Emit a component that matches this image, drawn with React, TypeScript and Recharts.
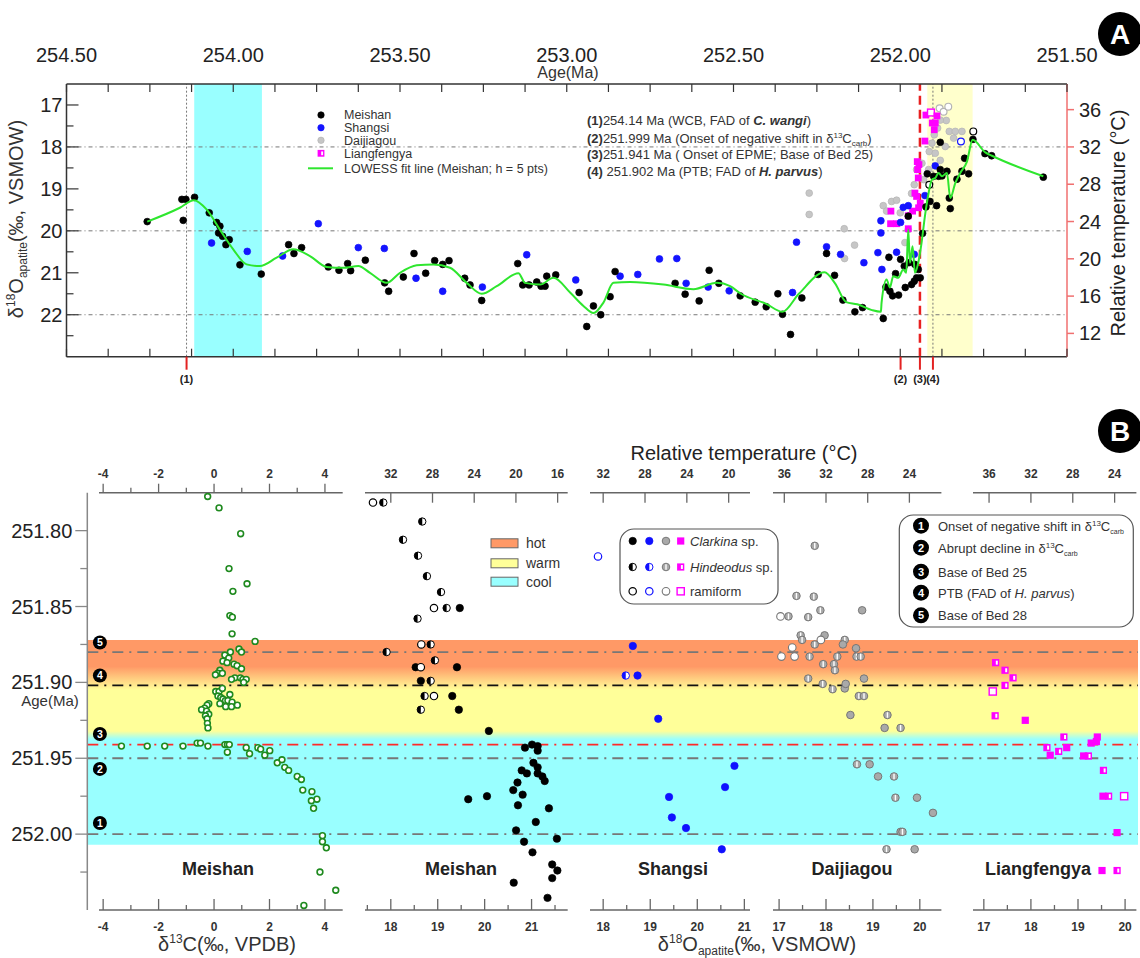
import React from "react";
import {
  ScatterChart,
  Scatter,
  XAxis,
  YAxis,
  ReferenceLine,
  ReferenceArea,
  ReferenceDot,
} from "recharts";

const FONT = "'Liberation Sans', Arial, Helvetica, sans-serif";

type Row = [number, number, string?];

// ---------- Panel A: δ18O(apatite) vs age, rows are [age Ma, δ18O ‰] ----------
const meishanA: Row[] = [
  [254.258, 19.78], [254.154, 19.25], [254.142, 19.25], [254.15, 19.75], [254.116, 19.2],
  [254.072, 19.57], [254.05, 19.8], [254.04, 19.89], [254.044, 20.05], [254.032, 20.13],
  [254.022, 20.33], [254.012, 20.21], [253.98, 20.81], [253.916, 21.03], [253.834, 20.33],
  [253.818, 20.54], [253.795, 20.4], [253.715, 20.86], [253.683, 20.94], [253.657, 20.78],
  [253.648, 20.95], [253.604, 20.7], [253.546, 21.24], [253.534, 21.44], [253.49, 21.1],
  [253.458, 20.54], [253.423, 21.01], [253.396, 20.71], [253.372, 20.8], [253.353, 20.71],
  [253.306, 21.13], [253.29, 21.29], [253.255, 21.66], [253.147, 20.78], [253.132, 21.29],
  [253.113, 21.29], [253.09, 21.22], [253.077, 21.32], [253.065, 21.32], [253.06, 21.08],
  [253.033, 21.05], [252.963, 21.47], [252.94, 22.28], [252.92, 21.79], [252.898, 22.0],
  [252.87, 21.57], [252.855, 20.97], [252.675, 21.25], [252.645, 21.51], [252.603, 21.67],
  [252.573, 20.94], [252.544, 21.25], [252.48, 21.55], [252.435, 21.7], [252.402, 21.81],
  [252.367, 21.5], [252.353, 21.99], [252.329, 22.47], [252.295, 21.6], [252.246, 21.04],
  [252.221, 20.54], [252.197, 21.06], [252.172, 21.65], [252.136, 21.93], [252.113, 21.83],
  [252.051, 22.09], [252.043, 21.34], [252.031, 21.44], [252.023, 21.55], [252.034, 20.63],
  [252.014, 21.02], [252.005, 21.53], [251.999, 20.68], [251.985, 21.35], [251.988, 20.84],
  [251.976, 19.65], [251.974, 20.76], [251.966, 21.28], [251.956, 20.8], [251.951, 21.12],
  [251.958, 21.2], [251.94, 21.12], [251.946, 20.92], [251.933, 20.06], [251.923, 19.43],
  [251.911, 19.3], [251.891, 19.4], [251.919, 18.64], [251.9, 18.7], [251.885, 18.7],
  [251.88, 17.89], [251.88, 18.54], [251.875, 18.69], [251.86, 18.58], [251.85, 19.47],
  [251.853, 19.22], [251.83, 18.77], [251.815, 18.58], [251.807, 18.27], [251.795, 18.64],
  [251.782, 17.82], [251.746, 18.16], [251.726, 18.21], [251.571, 18.72],
  [251.781, 17.63, "r"], [251.913, 18.9, "r"],
];

const shangsiA: Row[] = [
  [254.065, 20.29], [253.958, 20.49], [253.852, 20.6], [253.745, 19.83], [253.625, 20.4],
  [253.547, 20.42], [253.452, 21.13], [253.372, 21.44], [253.253, 21.34], [253.12, 20.57],
  [252.973, 21.17], [252.84, 21.08], [252.787, 21.04], [252.722, 20.67], [252.67, 20.66],
  [252.642, 21.25], [252.576, 21.34], [252.513, 21.43], [252.323, 21.47], [252.311, 20.27],
  [252.221, 20.38], [252.179, 20.56], [252.109, 20.76], [252.067, 20.52], [252.055, 20.92],
  [252.058, 19.76], [252.058, 20.05], [251.999, 19.8], [251.991, 19.44], [251.976, 19.4],
  [251.926, 19.16], [252.011, 20.51], [251.958, 20.56], [251.895, 18.45],
  [251.818, 17.87, "r"],
];

const daijiagouA: Row[] = [
  [252.273, 19.1], [252.273, 19.61], [252.168, 19.95], [252.137, 20.34], [252.167, 20.66],
  [252.051, 19.4], [252.041, 19.53], [252.026, 19.3], [252.011, 19.27], [252.0, 19.57],
  [251.986, 20.28], [251.976, 19.97], [251.966, 19.11], [251.958, 18.9], [251.951, 18.54],
  [251.935, 18.39], [251.913, 18.11], [251.905, 17.91], [251.898, 17.71], [251.888, 17.55],
  [251.882, 17.08, "r"], [251.87, 17.16, "r"], [251.862, 17.37], [251.856, 17.04, "r"],
  [251.853, 17.63], [251.88, 17.36], [251.895, 18.15], [251.915, 18.54], [251.88, 18.32],
  [251.84, 17.79], [251.835, 17.63], [251.815, 17.63], [251.865, 17.99], [251.93, 18.78],
];

const liangfengyaA: Row[] = [
  [252.028, 19.53], [252.029, 19.83], [252.011, 19.83], [251.976, 19.95], [251.976, 19.64],
  [251.963, 19.53], [251.956, 19.1], [251.951, 19.18], [251.94, 19.34], [251.945, 19.45],
  [251.949, 18.35], [251.944, 18.42], [251.948, 18.54], [251.946, 18.74], [251.926, 17.86],
  [251.923, 17.24], [251.908, 17.18, "r"], [251.89, 17.26], [251.904, 17.43], [251.895, 17.43],
  [251.898, 17.59],
];

// LOWESS curve, read node by node off the picture
const lowessA: Row[] = [
  [254.258, 19.78], [254.16, 19.45], [254.118, 19.27], [254.08, 19.49], [254.04, 19.97],
  [254.0, 20.44], [253.96, 20.8], [253.92, 20.84], [253.87, 20.64], [253.82, 20.44],
  [253.77, 20.6], [253.72, 20.86], [253.67, 20.88], [253.625, 20.84], [253.59, 21.0],
  [253.54, 21.24], [253.5, 21.0], [253.45, 20.82], [253.4, 20.8], [253.35, 20.88],
  [253.3, 21.24], [253.255, 21.5], [253.21, 21.32], [253.145, 21.01], [253.125, 21.24],
  [253.08, 21.28], [253.04, 21.12], [252.99, 21.47], [252.95, 21.79], [252.92, 21.96],
  [252.89, 21.71], [252.86, 21.24], [252.81, 21.22], [252.71, 21.28], [252.62, 21.39],
  [252.55, 21.24], [252.51, 21.32], [252.478, 21.5], [252.402, 21.74], [252.353, 21.93],
  [252.304, 21.5], [252.227, 20.99], [252.195, 21.26], [252.162, 21.7], [252.129, 21.75],
  [252.085, 21.89], [252.058, 21.93], [252.056, 21.71], [252.041, 21.16], [252.031, 21.35],
  [252.021, 21.08], [252.006, 21.12], [251.991, 20.92], [251.982, 21.0], [251.976, 19.97],
  [251.971, 20.76], [251.963, 20.37], [251.956, 21.0], [251.946, 20.76], [251.936, 20.28],
  [251.926, 19.65], [251.916, 19.14], [251.905, 18.78], [251.895, 18.74], [251.885, 18.62],
  [251.875, 18.7], [251.86, 18.62], [251.85, 19.22], [251.835, 18.86], [251.82, 18.62],
  [251.8, 18.35], [251.783, 17.83], [251.745, 18.13], [251.725, 18.21], [251.571, 18.7],
];

const ageTicksA = [
  254.5, 254.375, 254.25, 254.125, 254.0, 253.875, 253.75, 253.625, 253.5, 253.375, 253.25,
  253.125, 253.0, 252.875, 252.75, 252.625, 252.5, 252.375, 252.25, 252.125, 252.0, 251.875,
  251.75, 251.625, 251.5,
];
const d18TicksA = [17, 17.5, 18, 18.5, 19, 19.5, 20, 20.5, 21, 21.5, 22, 22.5];
const tempTicksA = [12, 16, 20, 24, 28, 32, 36];
const eventAges = [254.14, 251.999, 251.941, 251.902];
const eventLabels = ["(1)", "(2)", "(3)", "(4)"];

// ---------- Panel B: rows are [age Ma, value, kind]  c = Clarkina, h = Hindeodus, r = ramiform ----------
const c13Meishan: Row[] = [
  [251.7775, -0.23], [251.785, 0.18], [251.802, 0.96], [251.825, 0.54], [251.835, 1.19],
  [251.84, 0.68], [251.856, 0.57], [251.857, 0.66], [251.868, 0.65], [251.873, 1.48],
  [251.878, 0.9], [251.88, 0.99], [251.88, 0.59], [251.882, 0.39], [251.884, 0.53],
  [251.886, 0.32], [251.887, 0.47], [251.888, 0.72], [251.889, 0.83], [251.891, 0.99],
  [251.892, 0.21], [251.894, 0.14], [251.894, 0.3], [251.895, 0.05], [251.897, 0.75],
  [251.897, 0.95], [251.898, 1.04], [251.898, 1.16], [251.9, 1.07], [251.898, 0.63],
  [251.906, 0.06], [251.906, 0.18], [251.904, 0.3], [251.909, 0.14], [251.91, 0.24],
  [251.908, 0.57], [251.911, 0.32], [251.912, 0.41], [251.912, 0.5], [251.913, 0.65],
  [251.914, 0.21], [251.916, 0.42], [251.916, 0.63], [251.915, 0.84], [251.914, -0.19],
  [251.915, -0.25], [251.917, -0.34], [251.918, -0.45], [251.919, -0.27], [251.921, -0.19],
  [251.922, -0.31], [251.924, -0.25], [251.927, -0.24], [251.93, -0.22], [251.942, -3.34],
  [251.942, -2.41], [251.942, -1.78], [251.942, -1.12], [251.94, -0.61], [251.94, -0.49],
  [251.942, -0.22], [251.941, 0.39], [251.941, 0.48], [251.941, 0.55], [251.946, 0.48],
  [251.943, 1.16], [251.947, 1.28], [251.943, 1.58], [251.944, 1.68], [251.948, 1.83],
  [251.945, 2.01], [251.953, 2.28], [251.951, 2.45], [251.956, 2.55], [251.958, 2.69],
  [251.962, 3.0], [251.964, 3.15], [251.971, 3.2], [251.972, 3.53], [251.977, 3.71],
  [251.978, 3.51], [251.983, 3.59], [252.001, 3.91], [252.005, 3.91], [252.009, 4.05],
  [252.025, 3.82], [252.037, 4.39], [252.047, 3.24],
];

const o18Meishan: Row[] = [
  [251.7815, 17.62, "r"], [251.7815, 17.84, "h"], [251.794, 18.67, "h"], [251.806, 18.26, "h"],
  [251.8165, 18.58, "h"], [251.83, 18.77, "h"], [251.8405, 19.07, "h"], [251.851, 18.92, "r"],
  [251.851, 19.19, "h"], [251.851, 19.47, "c"], [251.858, 18.57, "h"], [251.875, 18.65, "r"],
  [251.875, 18.85, "h"], [251.88, 17.91, "h"], [251.8855, 18.94, "h"], [251.89, 19.41, "c"],
  [251.89, 18.53, "c"], [251.89, 18.64, "r"], [251.899, 18.64, "c"], [251.899, 18.85, "h"],
  [251.909, 18.72, "h"], [251.909, 18.92, "r"], [251.909, 19.31, "c"], [251.918, 18.64, "h"],
  [251.918, 19.45, "c"], [251.932, 20.09, "c"], [251.943, 20.86, "c"], [251.941, 21.01, "c"],
  [251.942, 21.13, "c"], [251.945, 21.13, "c"], [251.953, 21.04, "c"], [251.956, 21.13, "c"],
  [251.958, 20.79, "c"], [251.96, 20.9, "c"], [251.96, 21.13, "c"], [251.962, 21.23, "c"],
  [251.965, 21.28, "c"], [251.966, 20.7, "c"], [251.971, 20.61, "c"], [251.974, 20.81, "c"],
  [251.977, 19.65, "c"], [251.975, 20.05, "c"], [251.981, 20.71, "c"], [251.983, 21.37, "c"],
  [251.992, 21.09, "c"], [251.9975, 20.67, "c"], [252.003, 21.54, "c"], [252.005, 20.84, "c"],
  [252.012, 21.02, "c"], [252.02, 21.44, "c"], [252.024, 21.55, "c"], [252.029, 21.44, "c"],
  [252.032, 20.62, "c"], [252.042, 21.34, "c"],
];

const o18Shangsi: Row[] = [
  [251.817, 17.89, "r"], [251.876, 18.63, "c"], [251.8955, 18.48, "h"], [251.8955, 18.73, "c"],
  [251.924, 19.17, "c"], [251.955, 20.79, "c"], [251.969, 20.59, "c"], [251.9755, 19.4, "c"],
  [251.989, 19.46, "c"], [251.996, 19.76, "c"], [252.01, 20.52, "c"],
];

const o18Daijiagou: Row[] = [
  [251.81, 17.76, "h"], [251.843, 17.37, "h"], [251.8435, 17.74, "h"], [251.8525, 17.88, "h"],
  [251.8525, 18.77, "c"], [251.8565, 17.03, "r"], [251.8565, 17.2, "h"], [251.857, 17.62, "h"],
  [251.869, 17.46, "h"], [251.872, 17.49, "h"], [251.869, 17.97, "c"], [251.872, 17.89, "r"],
  [251.875, 17.76, "h"], [251.872, 18.4, "h"], [251.875, 18.36, "c"], [251.877, 17.28, "r"],
  [251.883, 17.05, "r"], [251.883, 17.33, "r"], [251.883, 17.65, "h"], [251.883, 18.24, "h"],
  [251.8775, 18.64, "c"], [251.883, 18.65, "h"], [251.883, 18.74, "h"], [251.888, 17.94, "h"],
  [251.888, 18.17, "h"], [251.892, 18.19, "h"], [251.8975, 17.62, "h"], [251.901, 17.93, "h"],
  [251.9045, 18.14, "h"], [251.904, 18.4, "c"], [251.901, 18.42, "c"], [251.8975, 18.81, "c"],
  [251.909, 18.7, "h"], [251.909, 18.81, "h"], [251.9215, 18.52, "c"], [251.9215, 19.31, "h"],
  [251.93, 19.25, "c"], [251.93, 19.59, "h"], [251.954, 18.66, "h"], [251.954, 18.93, "c"],
  [251.962, 19.11, "c"], [251.962, 19.45, "h"], [251.976, 19.48, "h"], [251.976, 19.94, "c"],
  [251.986, 20.28, "c"], [251.9985, 19.59, "h"], [251.9985, 19.63, "h"], [252.01, 19.29, "h"],
  [252.01, 19.89, "c"],
];

const o18Liangfengya: Row[] = [
  [251.887, 17.25, "h"], [251.892, 17.45, "h"], [251.897, 17.62, "h"], [251.902, 17.45, "h"],
  [251.906, 17.19, "r"], [251.922, 17.24, "h"], [251.925, 17.88, "c"], [251.936, 18.7, "h"],
  [251.943, 18.34, "h"], [251.948, 18.41, "c"], [251.9455, 18.59, "h"], [251.943, 18.76, "c"],
  [251.94, 19.28, "c"], [251.936, 19.41, "c"], [251.939, 19.39, "c"], [251.9485, 19.12, "c"],
  [251.9485, 19.22, "h"], [251.958, 19.54, "h"], [251.975, 19.65, "h"], [251.975, 19.53, "c"],
  [251.975, 19.98, "r"], [251.999, 19.83, "c"], [252.024, 19.51, "c"], [252.024, 19.83, "h"],
];

const ageTicksB = [
  251.8, 251.825, 251.85, 251.875, 251.9, 251.925, 251.95, 251.975, 252.0, 252.025,
];
const c13Ticks = [-4, -3, -2, -1, 0, 1, 2, 3, 4];
const bLineAges = [252.0, 251.95, 251.941, 251.902, 251.88];
const badgeAges = [251.9927, 251.957, 251.934, 251.8955, 251.8737];

// temperature scale shown against δ18O
const toTemp = (d: number) => 113 - 4.5 * d;

const toPtsA = (rows: Row[]) => rows.map(([x, y, k]) => ({ x, y, k: k ?? "c" }));
const toPtsB = (rows: Row[]) => rows.map(([age, v, k]) => ({ x: v, y: age, k: k ?? "c" }));

const isMult = (v: number, step: number) => Math.abs(v / step - Math.round(v / step)) < 1e-6;

// ---------- markers ----------
function marker(fill: string, edge: string, square = false, size = 3.7) {
  return (p: any) => {
    const { cx, cy } = p;
    if (cx == null || cy == null) return <g />;
    const k = p.payload?.k ?? "c";
    const s = size;
    if (square) {
      if (k === "r")
        return <rect x={cx - s} y={cy - s} width={2 * s} height={2 * s} fill="#fff" stroke={fill} strokeWidth={1.4} />;
      if (k === "h")
        return (
          <g>
            <rect x={cx - s} y={cy - s} width={2 * s} height={2 * s} fill={fill} />
            <rect x={cx + 0.2} y={cy - s * 0.55} width={s * 0.55} height={s * 1.1} fill="#fff" />
          </g>
        );
      return <rect x={cx - s} y={cy - s} width={2 * s} height={2 * s} fill={fill} />;
    }
    if (k === "r") return <circle cx={cx} cy={cy} r={s} fill="#fff" stroke={edge} strokeWidth={1.2} />;
    if (k === "h")
      return (
        <g>
          <circle cx={cx} cy={cy} r={s} fill="#fff" stroke={edge} strokeWidth={1} />
          <path d={`M${cx},${cy - s} A${s},${s} 0 0 0 ${cx},${cy + s} Z`} fill={fill} />
        </g>
      );
    return <circle cx={cx} cy={cy} r={s} fill={fill} stroke={edge} strokeWidth={0.7} />;
  };
}

function grayHalf(p: any) {
  const { cx, cy } = p;
  if (cx == null) return <g />;
  const k = p.payload?.k ?? "c";
  const s = 3.8;
  if (k === "r") return <circle cx={cx} cy={cy} r={s} fill="#fff" stroke="#777" strokeWidth={1.1} />;
  return (
    <g>
      <circle cx={cx} cy={cy} r={s} fill="#a9a9a9" stroke="#6f6f6f" strokeWidth={0.9} />
      {k === "h" && <line x1={cx} y1={cy - s + 1} x2={cx} y2={cy + s - 1} stroke="#fff" strokeWidth={1.4} />}
    </g>
  );
}

function c13Marker(p: any) {
  const { cx, cy } = p;
  if (cx == null) return <g />;
  return <circle cx={cx} cy={cy} r={2.9} fill="#fff" stroke="#1f8a1f" strokeWidth={1.6} />;
}

// ---------- ticks panel A ----------
function AgeTopTick(p: any) {
  const { x, y, payload } = p;
  const v = payload.value;
  return (
    <g>
      <line x1={x} y1={y} x2={x} y2={y + 8} stroke="#333" strokeWidth={1.2} />
      {isMult(v, 0.5) && (
        <text x={x} y={y - 22} textAnchor="middle" fontSize={20} fontFamily={FONT} fill="#222">
          {v.toFixed(2)}
        </text>
      )}
    </g>
  );
}

function AgeBottomTick(p: any) {
  const { x, y, payload } = p;
  const i = eventAges.indexOf(payload.value);
  if (i >= 0)
    return (
      <g>
        <line x1={x} y1={y} x2={x} y2={y + 13} stroke="#e32222" strokeWidth={2} />
        <text x={x} y={y + 26} textAnchor="middle" fontSize={11} fontWeight="bold" fontFamily={FONT} fill="#222">
          {eventLabels[i]}
        </text>
      </g>
    );
  return <line x1={x} y1={y} x2={x} y2={y - 8} stroke="#333" strokeWidth={1.2} />;
}

function D18Tick(p: any) {
  const { x, y, payload } = p;
  const v = payload.value;
  const major = isMult(v, 1);
  return (
    <g>
      <line x1={x} y1={y} x2={x + (major ? 12 : 7)} y2={y} stroke="#333" strokeWidth={1.2} />
      {major && (
        <text x={x - 4} y={y + 7} textAnchor="end" fontSize={20} fontFamily={FONT} fill="#222">
          {v}
        </text>
      )}
    </g>
  );
}

function TempTick(p: any) {
  const { x, y, payload } = p;
  return (
    <g>
      <line x1={x} y1={y} x2={x + 7} y2={y} stroke="#f07070" strokeWidth={1.5} />
      <text x={x + 12} y={y + 7} textAnchor="start" fontSize={20} fontFamily={FONT} fill="#222">
        {payload.value}
      </text>
    </g>
  );
}

// ---------- ticks panel B ----------
function AgeBTick(p: any) {
  const { x, y, payload } = p;
  const v = payload.value;
  const major = isMult(v, 0.05);
  return (
    <g>
      <line x1={x} y1={y} x2={x - (major ? 12 : 7)} y2={y} stroke="#888" strokeWidth={1.3} />
      {major && (
        <text x={x - 15} y={y + 7} textAnchor="end" fontSize={20} fontFamily={FONT} fill="#222">
          {v.toFixed(2)}
        </text>
      )}
    </g>
  );
}

function BottomTick(p: any) {
  const { x, y, payload, majorStep } = p;
  const v = payload.value;
  const major = isMult(v, majorStep);
  return (
    <g>
      <line x1={x} y1={y} x2={x} y2={y - (major ? 11 : 5)} stroke="#666" strokeWidth={1.3} />
      {major && (
        <text x={x} y={y + 21} textAnchor="middle" fontSize={12} fontWeight="bold" fontFamily={FONT} fill="#333">
          {v}
        </text>
      )}
    </g>
  );
}

function C13TopTick(p: any) {
  const { x, y, payload } = p;
  const v = payload.value;
  const major = isMult(v, 2);
  return (
    <g>
      <line x1={x} y1={y} x2={x} y2={y - (major ? 9 : 5)} stroke="#666" strokeWidth={1.3} />
      {major && (
        <text x={x} y={y - 15} textAnchor="middle" fontSize={12} fontWeight="bold" fontFamily={FONT} fill="#333">
          {v}
        </text>
      )}
    </g>
  );
}

function TempTopTick(p: any) {
  const { x, y, payload } = p;
  return (
    <g>
      <line x1={x} y1={y} x2={x} y2={y + 10} stroke="#666" strokeWidth={1.3} />
      <text x={x} y={y - 15} textAnchor="middle" fontSize={12} fontWeight="bold" fontFamily={FONT} fill="#333">
        {payload.value}
      </text>
    </g>
  );
}

// ---------- Panel A ----------
function PanelA() {
  const frame = { stroke: "#333", strokeWidth: 1.5 };
  const dom: [number, number] = [251.5, 254.5];
  return (
    <div style={{ position: "absolute", left: 0, top: 0 }}>
      <ScatterChart width={1140} height={400} margin={{ top: 54, right: 33, bottom: 13.3, left: 26.5 }}>
        <XAxis xAxisId="top" orientation="top" type="number" dataKey="x" domain={dom} reversed allowDataOverflow
          ticks={ageTicksA} interval={0} height={30} tickSize={0} tickMargin={0} tickLine={false}
          axisLine={frame} tick={AgeTopTick} />
        <XAxis xAxisId="bot" orientation="bottom" type="number" dataKey="x" domain={dom} reversed allowDataOverflow
          ticks={[...ageTicksA, ...eventAges]} interval={0} height={30} tickSize={0} tickMargin={0} tickLine={false}
          axisLine={frame} tick={AgeBottomTick} />
        <YAxis yAxisId="d" orientation="left" type="number" dataKey="y" domain={[16.5, 23]} reversed allowDataOverflow
          ticks={d18TicksA} interval={0} width={40} tickSize={0} tickMargin={0} tickLine={false}
          axisLine={frame} tick={D18Tick} />
        <YAxis yAxisId="t" orientation="right" type="number" domain={[toTemp(23), toTemp(16.5)]} allowDataOverflow
          ticks={tempTicksA} interval={0} width={40} tickSize={0} tickMargin={0} tickLine={false}
          axisLine={{ stroke: "#f07070", strokeWidth: 1.5 }} tick={TempTick} />
        <ReferenceArea xAxisId="bot" yAxisId="d" x1={254.117} x2={253.914} fill="#99ffff" fillOpacity={1} stroke="none" />
        <ReferenceArea xAxisId="bot" yAxisId="d" x1={251.919} x2={251.783} fill="#ffffcc" fillOpacity={1} stroke="none" />
        {[18, 20, 22].map((v) => (
          <ReferenceLine key={v} xAxisId="bot" yAxisId="d" y={v} stroke="#777" strokeDasharray="4 3 1 3" strokeWidth={1} />
        ))}
        <ReferenceLine xAxisId="bot" yAxisId="d" x={254.14} stroke="#777" strokeDasharray="2 2" strokeWidth={1} />
        <ReferenceLine xAxisId="bot" yAxisId="d" x={251.902} stroke="#777" strokeDasharray="2 2" strokeWidth={1} />
        <Scatter data={toPtsA(daijiagouA)} xAxisId="bot" yAxisId="d" isAnimationActive={false}
          shape={marker("#c6c6c6", "#b5b5b5", false, 3.4)} />
        <Scatter data={toPtsA(liangfengyaA)} xAxisId="bot" yAxisId="d" isAnimationActive={false}
          shape={marker("#ff00ff", "#ff00ff", true, 3.4)} />
        <Scatter data={toPtsA(shangsiA)} xAxisId="bot" yAxisId="d" isAnimationActive={false}
          shape={marker("#1414ff", "#1414ff", false, 3.4)} />
        <Scatter data={toPtsA(meishanA)} xAxisId="bot" yAxisId="d" isAnimationActive={false}
          shape={marker("#000", "#000", false, 3.4)} />
        <ReferenceLine xAxisId="bot" yAxisId="d" x={251.941} stroke="#e82020" strokeDasharray="9 5" strokeWidth={2.5} />
        <Scatter data={toPtsA(lowessA)} xAxisId="bot" yAxisId="d" isAnimationActive={false}
          line={{ stroke: "#2ee62e", strokeWidth: 2 }} lineJointType="monotoneX" shape={() => <g />} />
      </ScatterChart>
    </div>
  );
}

// ---------- Panel B ----------
const AGE_B: [number, number] = [251.775, 252.05];
const B_TOP = 400;
const B_H = 558;
const bLineColors = ["#777", "#777", "#ff2a2a", "#111", "#777"];

function PanelBBackground() {
  return (
    <div style={{ position: "absolute", left: 0, top: B_TOP }}>
      <ScatterChart width={1140} height={B_H} margin={{ top: 92.7, right: 2, bottom: 48, left: 7.3 }}>
        <defs>
          <linearGradient id="bandGrad" x1="0" y1="0" x2="0" y2="1">
            <stop offset="0" stopColor="#ff9966" />
            <stop offset="0.13" stopColor="#ff9966" />
            <stop offset="0.245" stopColor="#ffff99" />
            <stop offset="0.445" stopColor="#ffff99" />
            <stop offset="0.485" stopColor="#99ffff" />
            <stop offset="1" stopColor="#99ffff" />
          </linearGradient>
        </defs>
        <XAxis xAxisId="h" hide type="number" dataKey="x" domain={[0, 1]} allowDataOverflow />
        <YAxis yAxisId="a" orientation="left" type="number" dataKey="y" domain={AGE_B} reversed allowDataOverflow
          ticks={ageTicksB} interval={0} width={80} tickSize={0} tickMargin={0} tickLine={false}
          axisLine={{ stroke: "#888", strokeWidth: 1.5 }} tick={AgeBTick} />
        <ReferenceArea xAxisId="h" yAxisId="a" y1={251.872} y2={252.007} fill="url(#bandGrad)" fillOpacity={1} stroke="none" />
        {bLineAges.map((a, i) => (
          <ReferenceLine key={a} xAxisId="h" yAxisId="a" y={a} stroke={bLineColors[i]} strokeWidth={1.8}
            strokeDasharray="11 6 2 6" />
        ))}
        {badgeAges.map((a, i) => (
          <ReferenceDot key={a} xAxisId="h" yAxisId="a" x={0.012} y={a} r={7}
            shape={(p: any) => (
              <g>
                <circle cx={p.cx} cy={p.cy} r={7} fill="#000" />
                <text x={p.cx} y={p.cy + 3.8} textAnchor="middle" fontSize={10.5} fontWeight="bold" fontFamily={FONT} fill="#fff">
                  {i + 1}
                </text>
              </g>
            )} />
        ))}
      </ScatterChart>
    </div>
  );
}

type SubCfg = {
  left: number;
  right: number;
  domain: [number, number];
  ticks: number[];
  major: number;
  tempTicks?: number[];
  series: { rows: Row[]; shape: any }[];
};

const subPanels: SubCfg[] = [
  {
    left: 99.3, right: 343, domain: [-4.15, 4.64], ticks: c13Ticks, major: 2,
    series: [{ rows: c13Meishan, shape: c13Marker }],
  },
  {
    left: 365, right: 567.7, domain: [17.45, 21.77], ticks: [17.5, 18, 18.5, 19, 19.5, 20, 20.5, 21, 21.5], major: 1,
    tempTicks: [32, 28, 24, 20, 16], series: [{ rows: o18Meishan, shape: marker("#000", "#000") }],
  },
  {
    left: 590, right: 750, domain: [17.72, 21.12], ticks: [18, 18.5, 19, 19.5, 20, 20.5, 21], major: 1,
    tempTicks: [32, 28, 24, 20], series: [{ rows: o18Shangsi, shape: marker("#1010ff", "#1010ff") }],
  },
  {
    left: 773.3, right: 941.7, domain: [16.87, 20.46], ticks: [17, 17.5, 18, 18.5, 19, 19.5, 20], major: 1,
    tempTicks: [36, 32, 28, 24], series: [{ rows: o18Daijiagou, shape: grayHalf }],
  },
  {
    left: 973.3, right: 1136.7, domain: [16.77, 20.24], ticks: [17, 17.5, 18, 18.5, 19, 19.5, 20], major: 1,
    tempTicks: [36, 32, 28, 24], series: [{ rows: o18Liangfengya, shape: marker("#ff00ff", "#ff00ff", true, 3.6) }],
  },
];

function SubPanel({ cfg }: { cfg: SubCfg }) {
  const pad = 10;
  const axis = { stroke: "#666", strokeWidth: 1.5 };
  const tempDom: [number, number] = [toTemp(cfg.domain[1]), toTemp(cfg.domain[0])];
  const topIsTemp = !!cfg.tempTicks;
  return (
    <div style={{ position: "absolute", left: cfg.left - pad, top: B_TOP }}>
      <ScatterChart width={cfg.right - cfg.left + 2 * pad} height={B_H}
        margin={{ top: 62.7, right: pad, bottom: 18, left: pad }}>
        <XAxis xAxisId="b" orientation="bottom" type="number" dataKey="x" domain={cfg.domain} allowDataOverflow
          ticks={cfg.ticks} interval={0} height={30} tickSize={0} tickMargin={0} tickLine={false}
          axisLine={axis} tick={(p: any) => <BottomTick {...p} majorStep={cfg.major} />} />
        <XAxis xAxisId="t" orientation="top" type="number" dataKey="x"
          domain={topIsTemp ? tempDom : cfg.domain} reversed={topIsTemp} allowDataOverflow
          ticks={topIsTemp ? cfg.tempTicks : cfg.ticks} interval={0} height={30} tickSize={0} tickMargin={0}
          tickLine={false} axisLine={axis}
          tick={(p: any) => (topIsTemp ? <TempTopTick {...p} /> : <C13TopTick {...p} />)} />
        <YAxis yAxisId="a" hide type="number" dataKey="y" domain={AGE_B} reversed allowDataOverflow />
        {cfg.series.map((s, i) => (
          <Scatter key={i} data={toPtsB(s.rows)} xAxisId="b" yAxisId="a" isAnimationActive={false} shape={s.shape} />
        ))}
      </ScatterChart>
    </div>
  );
}

// ---------- text, legends, badges ----------
function Overlay() {
  const t = { fontFamily: FONT, fill: "#333" } as const;
  const legA = [
    { label: "Meishan", draw: marker("#000", "#000", false, 3.2) },
    { label: "Shangsi", draw: marker("#1414ff", "#1414ff", false, 3.2) },
    { label: "Daijiagou", draw: marker("#c6c6c6", "#b5b5b5", false, 3.2) },
    { label: "Liangfengya", draw: marker("#ff00ff", "#ff00ff", true, 3.4) },
  ];
  const legAY = [115, 127.7, 140.3, 153.3];
  const symRows = [
    { k: "c", y: 541 },
    { k: "h", y: 567 },
    { k: "r", y: 591.3 },
  ];
  const numY = [525.7, 547.7, 571.7, 592.7, 615.3];
  const siteLabels = [
    { text: "Meishan", x: 218 },
    { text: "Meishan", x: 461 },
    { text: "Shangsi", x: 673 },
    { text: "Daijiagou", x: 852 },
    { text: "Liangfengya", x: 1038 },
  ];
  return (
    <svg width={1140} height={958} style={{ position: "absolute", left: 0, top: 0, pointerEvents: "none" }}>
      {/* Panel A */}
      <circle cx={1120} cy={34} r={22} fill="#000" />
      <text x={1120} y={44} textAnchor="middle" fontSize={28} fontWeight="bold" fontFamily={FONT} fill="#fff">A</text>
      <text x={568} y={78} textAnchor="middle" fontSize={16} {...t}>Age(Ma)</text>
      <text transform="translate(23,219) rotate(-90)" textAnchor="middle" fontSize={20} {...t}>
        δ<tspan dy={-8} fontSize={12}>18</tspan>
        <tspan dy={8}>O</tspan>
        <tspan dy={4} fontSize={12}>apatite</tspan>
        <tspan dy={-4}>(‰, VSMOW)</tspan>
      </text>
      <text transform="translate(1125,223) rotate(-90)" textAnchor="middle" fontSize={20} {...t} fill="#222">
        Relative temperature (°C)
      </text>
      {legA.map((l, i) => (
        <g key={l.label}>
          {l.draw({ cx: 321, cy: legAY[i], payload: { k: i === 3 ? "h" : "c" } })}
          <text x={344} y={legAY[i] + 4.3} fontSize={12.5} {...t}>{l.label}</text>
        </g>
      ))}
      <line x1={308} y1={168.3} x2={333} y2={168.3} stroke="#2ee62e" strokeWidth={2} />
      <text x={344} y={172.8} fontSize={12.5} {...t}>LOWESS fit line (Meishan; h = 5 pts)</text>

      <text x={587} y={125} fontSize={13} {...t}>
        <tspan fontWeight="bold">(1)</tspan>254.14 Ma (WCB, FAD of <tspan fontWeight="bold" fontStyle="italic">C. wangi</tspan>)
      </text>
      <text x={587} y={143} fontSize={13} {...t}>
        <tspan fontWeight="bold">(2)</tspan>251.999 Ma (Onset of negative shift in δ
        <tspan dy={-5} fontSize={8}>13</tspan>
        <tspan dy={5}>C</tspan>
        <tspan dy={3} fontSize={8}>carb</tspan>
        <tspan dy={-3}>)</tspan>
      </text>
      <text x={587} y={158.5} fontSize={13} {...t}>
        <tspan fontWeight="bold">(3)</tspan>251.941 Ma ( Onset of EPME; Base of Bed 25)
      </text>
      <text x={587} y={175.5} fontSize={13} {...t}>
        <tspan fontWeight="bold">(4)</tspan> 251.902 Ma (PTB; FAD of <tspan fontWeight="bold" fontStyle="italic">H. parvus</tspan>)
      </text>

      {/* Panel B */}
      <circle cx={1120} cy={431} r={22} fill="#000" />
      <text x={1120} y={441} textAnchor="middle" fontSize={28} fontWeight="bold" fontFamily={FONT} fill="#fff">B</text>
      <text x={744} y={460} textAnchor="middle" fontSize={20} {...t} fill="#222">Relative temperature (°C)</text>
      <text x={757} y={951} textAnchor="middle" fontSize={20} {...t}>
        δ<tspan dy={-8} fontSize={12}>18</tspan>
        <tspan dy={8}>O</tspan>
        <tspan dy={4} fontSize={12}>apatite</tspan>
        <tspan dy={-4}>(‰, VSMOW)</tspan>
      </text>
      <text x={227} y={951} textAnchor="middle" fontSize={20} {...t}>
        δ<tspan dy={-8} fontSize={12}>13</tspan>
        <tspan dy={8}>C(‰, VPDB)</tspan>
      </text>
      <text x={50} y={706} textAnchor="middle" fontSize={15} {...t}>Age(Ma)</text>
      {siteLabels.map((s, i) => (
        <text key={i} x={s.x} y={875} textAnchor="middle" fontSize={18} fontWeight="bold" fontFamily={FONT} fill="#222">
          {s.text}
        </text>
      ))}

      {[
        { label: "hot", c: "#ff9966", y: 543.3 },
        { label: "warm", c: "#ffff99", y: 563.3 },
        { label: "cool", c: "#99ffff", y: 581.7 },
      ].map((h) => (
        <g key={h.label}>
          <rect x={491} y={h.y - 4.5} width={27} height={9} fill={h.c} stroke="#666" strokeWidth={1} />
          <text x={526} y={h.y + 5} fontSize={14} {...t}>{h.label}</text>
        </g>
      ))}

      <rect x={620} y={529} width={158} height={75} rx={14} fill="#fff" stroke="#555" strokeWidth={1.2} />
      {symRows.map((r) => (
        <g key={r.k}>
          {marker("#000", "#000", false, 3.7)({ cx: 632.7, cy: r.y, payload: { k: r.k } })}
          {marker("#1010ff", "#1010ff", false, 3.7)({ cx: 649.3, cy: r.y, payload: { k: r.k } })}
          {grayHalf({ cx: 666, cy: r.y, payload: { k: r.k } })}
          {marker("#ff00ff", "#ff00ff", true, 3.6)({ cx: 680.7, cy: r.y, payload: { k: r.k } })}
        </g>
      ))}
      <text x={690} y={546} fontSize={13} {...t}><tspan fontStyle="italic">Clarkina</tspan> sp.</text>
      <text x={690} y={572} fontSize={13} {...t}><tspan fontStyle="italic">Hindeodus</tspan> sp.</text>
      <text x={690} y={596.3} fontSize={13} {...t}>ramiform</text>

      <rect x={899.3} y={515} width={234} height={112} rx={14} fill="#fff" stroke="#555" strokeWidth={1.2} />
      {numY.map((y, i) => (
        <g key={i}>
          <circle cx={921} cy={y} r={8} fill="#000" />
          <text x={921} y={y + 4} textAnchor="middle" fontSize={11} fontWeight="bold" fontFamily={FONT} fill="#fff">{i + 1}</text>
        </g>
      ))}
      <text x={938} y={530.5} fontSize={13} {...t}>
        Onset of negative shift in δ<tspan dy={-5} fontSize={8}>13</tspan>
        <tspan dy={5}>C</tspan>
        <tspan dy={3} fontSize={7}>carb</tspan>
      </text>
      <text x={938} y={552.5} fontSize={13} {...t}>
        Abrupt decline in δ<tspan dy={-5} fontSize={8}>13</tspan>
        <tspan dy={5}>C</tspan>
        <tspan dy={3} fontSize={7}>carb</tspan>
      </text>
      <text x={938} y={576.5} fontSize={13} {...t}>Base of Bed 25</text>
      <text x={938} y={597.5} fontSize={13} {...t}>
        PTB (FAD of <tspan fontStyle="italic">H. parvus</tspan>)
      </text>
      <text x={938} y={620} fontSize={13} {...t}>Base of Bed 28</text>
    </svg>
  );
}

export default function App() {
  return (
    <div style={{ position: "absolute", left: 0, top: 0, width: 1140, height: 958, background: "#fff", fontFamily: FONT }}>
      <PanelA />
      <PanelBBackground />
      {subPanels.map((cfg, i) => (
        <SubPanel key={i} cfg={cfg} />
      ))}
      <Overlay />
    </div>
  );
}
